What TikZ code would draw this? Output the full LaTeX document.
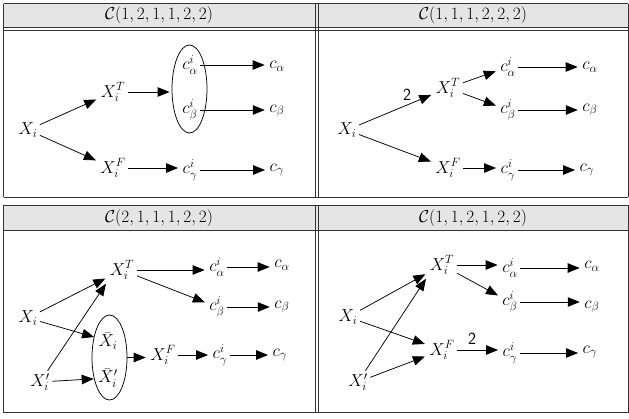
\documentclass[tikz,border=0pt]{standalone}
\usetikzlibrary{arrows.meta,shapes.geometric}
\begin{document}
\begin{tikzpicture}[x=1pt,y=-1pt,
  lbl/.style={inner sep=2.5pt},
  arr/.style={-{Triangle[length=12pt,width=9.5pt]}, line width=0.75pt, shorten >=2pt},
  rule/.style={draw=black!80, line width=1pt},
  hdr/.style={fill=black!10},
  grp/.style={draw, ellipse, line width=0.75pt, inner sep=0pt}]
\fontsize{17}{20}\selectfont
\useasboundingbox (0,0) rectangle (629,418);
% header fills
\fill[hdr] (3.5,3.5) rectangle (628.3,27.3);
\fill[hdr] (3.5,205) rectangle (628.3,230.7);
% horizontal rules
\foreach \yy in {3.5,27.3,30.3,197.3,205,230.7,412.7}
  \draw[rule] (3.5,\yy) -- (628.3,\yy);
% vertical rules
\foreach \xx in {3.5,315,318,628.3}{
  \draw[rule] (\xx,3.5) -- (\xx,197.3);
  \draw[rule] (\xx,205) -- (\xx,412.7);}
% headers
\node (h1) at (159,15.5) {$\mathcal{C}(1,2,1,1,2,2)$};
\node (h2) at (473,15.5) {$\mathcal{C}(1,1,1,2,2,2)$};
\node (h3) at (159,218) {$\mathcal{C}(2,1,1,1,2,2)$};
\node (h4) at (473,218) {$\mathcal{C}(1,1,2,1,2,2)$};

% ---------- panel 1 ----------
\begin{scope}[every node/.style={lbl}]
\node (a1) at (28,130) {$X_i$};
\node (a2) at (113,92) {$X_i^T$};
\node (a3) at (113,168) {$X_i^F$};
\node (a4) at (190,65) {$c_\alpha^i$};
\node (a5) at (190,110) {$c_\beta^i$};
\node (a6) at (190,170) {$c_\gamma^i$};
\node (a7) at (277,66) {$c_\alpha$};
\node (a8) at (277,111) {$c_\beta$};
\node (a9) at (277,170) {$c_\gamma$};
\end{scope}
\node[grp, minimum width=35pt, minimum height=88pt] (ae) at (189.5,89) {};
\draw[arr] (a1) -- (a2);
\draw[arr] (a1) -- (a3);
\draw[arr] (a2.east) -- (a2.east -| ae.west);
\draw[arr] (a4.east) -- (a4.east -| a7.west);
\draw[arr] (a5.east) -- (a5.east -| a8.west);
\draw[arr] (a3.east) -- (a3.east -| a6.west);
\draw[arr] (a6.east) -- (a6.east -| a9.west);

% ---------- panel 2 ----------
\begin{scope}[every node/.style={lbl}]
\node (b1) at (347,130) {$X_i$};
\node (b2) at (448,88) {$X_i^T$};
\node (b3) at (448,168) {$X_i^F$};
\node (b4) at (508,67) {$c_\alpha^i$};
\node (b5) at (508,110) {$c_\beta^i$};
\node (b6) at (508,170) {$c_\gamma^i$};
\node (b7) at (590,67) {$c_\alpha$};
\node (b8) at (590,110) {$c_\beta$};
\node (b9) at (587,170) {$c_\gamma$};
\node (b10) at (407,95) {\sffamily 2};
\end{scope}
\draw[arr] (b1) -- (b2);
\draw[arr] (b1) -- (b3);
\draw[arr] (b2) -- (b4);
\draw[arr] (b2) -- (b5);
\draw[arr] (b4.east) -- (b4.east -| b7.west);
\draw[arr] (b5.east) -- (b5.east -| b8.west);
\draw[arr] (b3.east) -- (b3.east -| b6.west);
\draw[arr] (b6.east) -- (b6.east -| b9.west);

% ---------- panel 3 ----------
\begin{scope}[every node/.style={lbl}]
\node (c1) at (28,318) {$X_i$};
\node (c2) at (40,382) {$X_i'$};
\node (c3) at (122,270) {$X_i^T$};
\node (c4) at (108,341) {$\bar X_i$};
\node (c5) at (108,378) {$\bar X_i'$};
\node (c6) at (163,355) {$X_i^F$};
\node (c7) at (217,267) {$c_\alpha^i$};
\node (c8) at (217,307) {$c_\beta^i$};
\node (c9) at (220,355) {$c_\gamma^i$};
\node (c10) at (282,265) {$c_\alpha$};
\node (c11) at (282,307) {$c_\beta$};
\node (c12) at (280,355) {$c_\gamma$};
\end{scope}
\node[grp, minimum width=35pt, minimum height=85pt] (ce) at (109.5,357.5) {};
\draw[arr] (c1) -- (c3);
\draw[arr] (c1) -- (c4);
\draw[arr] (c2) -- (c3.south west);
\draw[arr] (c2) -- (c5);
\draw[arr] (c3.east) -- (c3.east -| c7.west);
\draw[arr] (c3) -- (c8);
\draw[arr] (c7.east) -- (c7.east -| c10.west);
\draw[arr] (c8.east) -- (c8.east -| c11.west);
\draw[arr] (ce.east) -- (ce.east -| c6.west);
\draw[arr] (c6.east) -- (c6.east -| c9.west);
\draw[arr] (c9.east) -- (c9.east -| c12.west);

% ---------- panel 4 ----------
\begin{scope}[every node/.style={lbl}]
\node (d1) at (348,317) {$X_i$};
\node (d2) at (358,382) {$X_i'$};
\node (d3) at (442,265) {$X_i^T$};
\node (d4) at (442,350) {$X_i^F$};
\node (d5) at (510,268) {$c_\alpha^i$};
\node (d6) at (510,302) {$c_\beta^i$};
\node (d7) at (510,353) {$c_\gamma^i$};
\node (d8) at (592,266) {$c_\alpha$};
\node (d9) at (592,307) {$c_\beta$};
\node (d10) at (590,352) {$c_\gamma$};
\node (d11) at (472,339) {\sffamily 2};
\end{scope}
\draw[arr] (d1) -- (d3);
\draw[arr] (d1) -- (d4);
\draw[arr] (d2) -- (d3.south west);
\draw[arr] (d2) -- (d4);
\draw[arr] (d3.east) -- (d3.east -| d5.west);
\draw[arr] (d3) -- (d6);
\draw[arr] (d5.east) -- (d5.east -| d8.west);
\draw[arr] (d6.east) -- (d6.east -| d9.west);
\draw[arr] (d4.east) -- (d4.east -| d7.west);
\draw[arr] (d7.east) -- (d7.east -| d10.west);
\end{tikzpicture}
\end{document}
